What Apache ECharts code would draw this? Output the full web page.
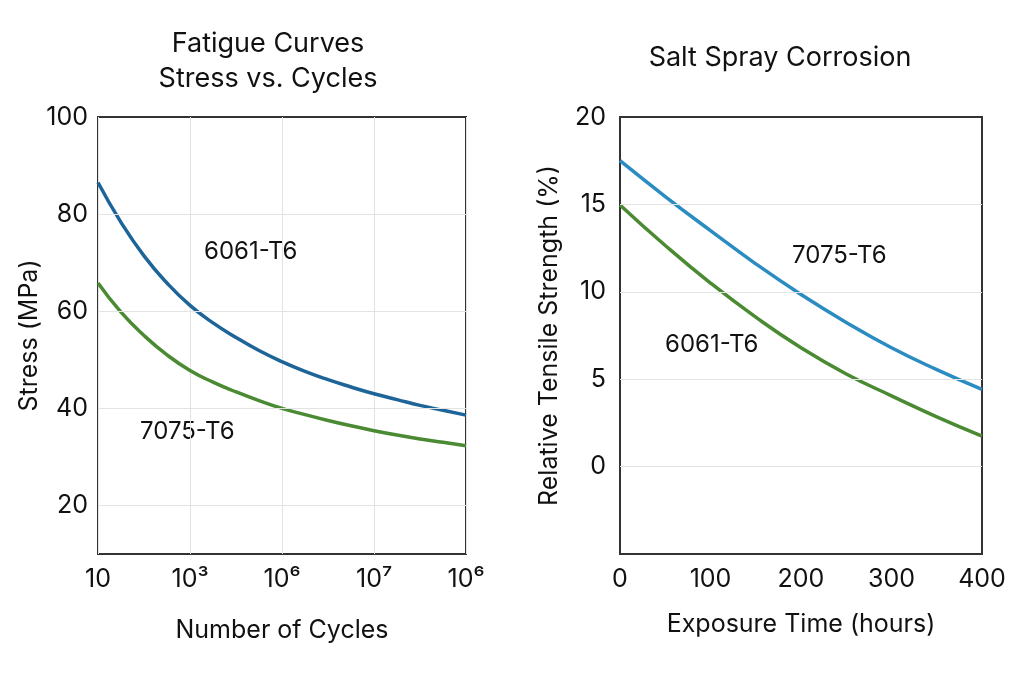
<!DOCTYPE html>
<html><head><meta charset="utf-8">
<script src="https://cdn.jsdelivr.net/npm/echarts@6/dist/echarts.min.js"></script>
<style>html,body{margin:0;padding:0;background:#fff}#c{width:1024px;height:683px}</style>
</head><body><div id="c"></div>
<script>
// Left panel: fatigue curves (x = tick position index on cycles axis)
const cycleTickLabels = ['10', '10³', '10⁶', '10⁷', '10⁶'];
const fatigueX = [0, 0.25, 0.5, 0.75, 1, 1.25, 1.5, 1.75, 2, 2.25, 2.5, 2.75, 3, 3.25, 3.5, 3.75, 4];
const fatigue6061 = [86.5, 78.3, 71.4, 65.8, 61.2, 57.6, 54.6, 51.9, 49.6, 47.6, 45.9, 44.4, 43, 41.8, 40.6, 39.6, 38.6];
const fatigue7075 = [65.8, 59.8, 55, 51, 47.8, 45.4, 43.4, 41.6, 40, 38.7, 37.5, 36.4, 35.4, 34.5, 33.7, 33, 32.3];
const stressGridValues = [20, 40, 60, 80];

// Right panel: salt spray corrosion
const exposureHours = [0, 50, 100, 150, 200, 250, 300, 350, 400];
const corrosion7075 = [17.5, 15.45, 13.5, 11.6, 9.85, 8.25, 6.8, 5.55, 4.42];
const corrosion6061 = [14.97, 12.65, 10.5, 8.55, 6.8, 5.3, 4.05, 2.85, 1.75];
const strengthGridValues = [0, 5, 10, 15];

const FONT = 'Inter';
const blueL = '#1d6499', blueR = '#2b8cc2', green = '#4a8a32';
const zip = (xs, ys) => xs.map((x, i) => [x, ys[i]]);
const gridLines = vals => ({
  silent: true, symbol: 'none', label: {show: false},
  lineStyle: {color: '#e3e3e3', width: 1, type: 'solid'},
  data: vals.map(v => ({yAxis: v}))
});
const lbl = {fontFamily: FONT, fontSize: 25, color: '#111'};
const nm = {fontFamily: FONT, fontSize: 25, color: '#111'};

const chart = echarts.init(document.getElementById('c'));
chart.setOption({
  backgroundColor: '#fff',
  animation: false,
  textStyle: {fontFamily: FONT},
  title: [
    {text: 'Fatigue Curves\nStress vs. Cycles', left: 263, top: 21, textAlign: 'center',
     textStyle: {fontFamily: FONT, fontSize: 27, fontWeight: 'normal', color: '#111', lineHeight: 35}},
    {text: 'Salt Spray Corrosion', left: 775, top: 39, textAlign: 'center',
     textStyle: {fontFamily: FONT, fontSize: 27, fontWeight: 'normal', color: '#111'}}
  ],
  grid: [
    {left: 98, right: 558, top: 117, bottom: 129, show: true, borderColor: '#333', borderWidth: 2, backgroundColor: 'transparent'},
    {left: 620, right: 42, top: 117, bottom: 129, show: true, borderColor: '#333', borderWidth: 2, backgroundColor: 'transparent'}
  ],
  xAxis: [
    {type: 'value', gridIndex: 0, min: 0, max: 4, interval: 1,
     name: 'Number of Cycles', nameLocation: 'middle', nameGap: 64, nameTextStyle: nm,
     axisLine: {show: false}, axisTick: {show: false},
     splitLine: {show: true, lineStyle: {color: '#e3e3e3', width: 1}},
     axisLabel: Object.assign({margin: 13, formatter: v => cycleTickLabels[Math.round(v)]}, lbl)},
    {type: 'value', gridIndex: 1, min: 0, max: 400, interval: 100,
     name: 'Exposure Time (hours)', nameLocation: 'middle', nameGap: 58, nameTextStyle: nm,
     axisLine: {show: false}, axisTick: {show: false}, splitLine: {show: false},
     axisLabel: Object.assign({margin: 13}, lbl)}
  ],
  yAxis: [
    {type: 'value', gridIndex: 0, min: 10, max: 100, interval: 10,
     name: 'Stress (MPa)', nameLocation: 'middle', nameGap: 56, nameTextStyle: nm,
     axisLine: {show: false}, axisTick: {show: false}, splitLine: {show: false},
     axisLabel: Object.assign({margin: 10, formatter: v => (v % 20 === 0 ? String(v) : '')}, lbl)},
    {type: 'value', gridIndex: 1, min: -5, max: 20, interval: 5,
     name: 'Relative Tensile Strength (%)', nameLocation: 'middle', nameGap: 58, nameTextStyle: nm,
     axisLine: {show: false}, axisTick: {show: false}, splitLine: {show: false},
     axisLabel: Object.assign({margin: 14, formatter: v => (v < 0 ? '' : String(v))}, lbl)}
  ],
  series: [
    {type: 'line', xAxisIndex: 0, yAxisIndex: 0, data: zip(fatigueX, fatigue6061), smooth: true,
     showSymbol: false, lineStyle: {color: blueL, width: 3.5}, markLine: gridLines(stressGridValues), z: 3},
    {type: 'line', xAxisIndex: 0, yAxisIndex: 0, data: zip(fatigueX, fatigue7075), smooth: true,
     showSymbol: false, lineStyle: {color: green, width: 3.5}, z: 3},
    {type: 'line', xAxisIndex: 1, yAxisIndex: 1, data: zip(exposureHours, corrosion7075), smooth: true,
     showSymbol: false, lineStyle: {color: blueR, width: 3.5}, markLine: gridLines(strengthGridValues), z: 3},
    {type: 'line', xAxisIndex: 1, yAxisIndex: 1, data: zip(exposureHours, corrosion6061), smooth: true,
     showSymbol: false, lineStyle: {color: green, width: 3.5}, z: 3}
  ],
  graphic: [
    {type: 'text', left: 204, top: 240, style: {text: '6061-T6', font: '24px Inter', fill: '#111'}},
    {type: 'text', left: 140, top: 420, style: {text: '7075-T6', font: '24px Inter', fill: '#111'}},
    {type: 'text', left: 792, top: 244, style: {text: '7075-T6', font: '24px Inter', fill: '#111'}},
    {type: 'text', left: 665, top: 333, style: {text: '6061-T6', font: '24px Inter', fill: '#111'}}
  ]
});
</script></body></html>
